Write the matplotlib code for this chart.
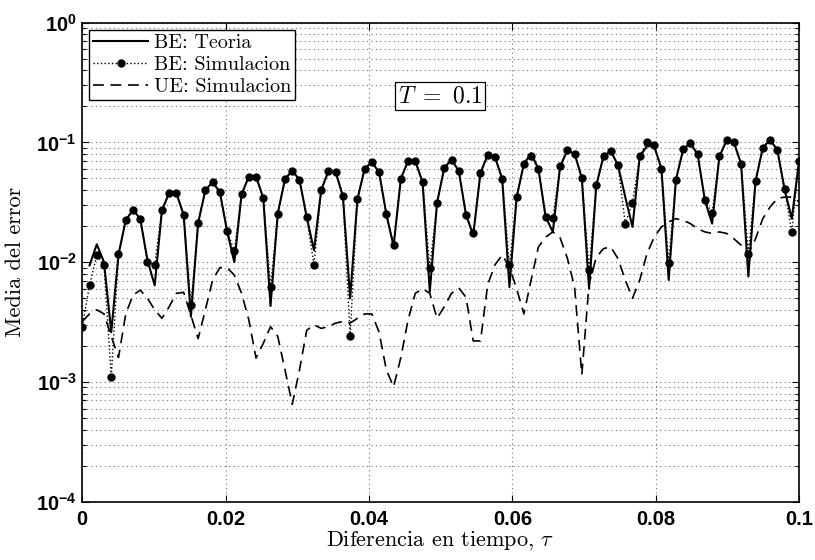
"""
Error medio vs diferencia en tiempo (escala log), estilo MATLAB.
"""

import numpy as np
import matplotlib
matplotlib.use("Agg")
import matplotlib.pyplot as plt
from matplotlib.ticker import LogLocator, NullLocator, FixedLocator, FixedFormatter

plt.rcParams["mathtext.fontset"] = "cm"

# ── data ──
tau = np.linspace(0, 0.1, 100)

be_sim = [
    2.9e-3, 6.4e-3, 1.15e-2, 9.4e-3, 1.1e-3, 1.16e-2, 2.24e-2, 2.73e-2, 2.31e-2, 1.0e-2,
    9.5e-3, 2.71e-2, 3.79e-2, 3.76e-2, 2.49e-2, 4.4e-3, 2.13e-2, 4.0e-2, 4.67e-2, 3.85e-2,
    1.82e-2, 1.24e-2, 3.69e-2, 5.18e-2, 5.18e-2, 3.44e-2, 6.2e-3, 2.55e-2, 4.95e-2, 5.8e-2,
    4.89e-2, 2.37e-2, 9.5e-3, 4.0e-2, 5.77e-2, 5.66e-2, 3.55e-2, 2.42e-3, 3.35e-2, 6.03e-2,
    6.86e-2, 5.62e-2, 2.51e-2, 1.40e-2, 4.98e-2, 6.99e-2, 6.99e-2, 4.67e-2, 8.97e-3, 3.12e-2,
    6.15e-2, 7.17e-2, 5.8e-2, 2.49e-2, 1.77e-2, 5.58e-2, 7.84e-2, 7.55e-2, 4.98e-2, 9.5e-3,
    3.5e-2, 6.64e-2, 7.64e-2, 6.03e-2, 2.39e-2, 2.34e-2, 6.3e-2, 8.58e-2, 8.05e-2, 5.05e-2,
    8.58e-3, 4.39e-2, 7.69e-2, 8.47e-2, 6.45e-2, 2.1e-2, 3.14e-2, 7.64e-2, 1.01e-1, 9.44e-2,
    6.03e-2, 9.9e-3, 4.89e-2, 8.75e-2, 9.87e-2, 7.94e-2, 3.29e-2, 2.58e-2, 7.64e-2, 1.04e-1,
    1.007e-1, 6.64e-2, 1.18e-2, 4.77e-2, 9.03e-2, 1.05e-1, 8.69e-2, 4.08e-2, 1.79e-2, 6.95e-2,
]

# theory curve starts at the second sample
be_teo = [
    9.4e-3, 1.41e-2, 1.0e-2, 2.6e-3, 1.16e-2, 2.24e-2, 2.73e-2, 2.31e-2, 1.04e-2,
    6.4e-3, 2.71e-2, 3.79e-2, 3.76e-2, 2.49e-2, 3.5e-3, 2.13e-2, 4.0e-2, 4.67e-2, 3.85e-2,
    1.82e-2, 1.0e-2, 3.69e-2, 5.18e-2, 5.18e-2, 3.44e-2, 4.3e-3, 2.55e-2, 4.95e-2, 5.8e-2,
    4.89e-2, 2.37e-2, 1.26e-2, 4.0e-2, 5.77e-2, 5.66e-2, 3.55e-2, 5.0e-3, 3.35e-2, 6.03e-2,
    6.86e-2, 5.62e-2, 2.51e-2, 1.36e-2, 4.98e-2, 6.99e-2, 6.99e-2, 4.67e-2, 5.67e-3, 3.12e-2,
    6.15e-2, 7.17e-2, 5.8e-2, 2.49e-2, 1.68e-2, 5.58e-2, 7.84e-2, 7.55e-2, 4.98e-2, 6.2e-3,
    3.5e-2, 6.64e-2, 8.1e-2, 6.03e-2, 2.39e-2, 1.79e-2, 6.3e-2, 8.58e-2, 8.05e-2, 5.05e-2,
    6.0e-3, 4.39e-2, 7.69e-2, 8.47e-2, 6.45e-2, 3.5e-2, 1.97e-2, 7.64e-2, 9.3e-2, 9.3e-2,
    6.03e-2, 7.1e-3, 4.89e-2, 8.75e-2, 9.87e-2, 7.94e-2, 3.29e-2, 2.1e-2, 7.64e-2, 1.04e-1,
    1.007e-1, 6.64e-2, 7.6e-3, 4.77e-2, 9.03e-2, 1.05e-1, 8.69e-2, 4.08e-2, 2.31e-2, 6.95e-2,
]

ue_sim = [
    3.2e-3, 3.7e-3, 4.0e-3, 3.7e-3, 2.4e-3, 1.6e-3, 3.7e-3, 5.3e-3, 5.85e-3, 5.0e-3,
    4.0e-3, 3.4e-3, 4.25e-3, 5.5e-3, 5.6e-3, 3.6e-3, 2.3e-3, 4.0e-3, 7.1e-3, 9.0e-3,
    9.0e-3, 7.8e-3, 5.5e-3, 3.3e-3, 1.58e-3, 2.1e-3, 2.9e-3, 2.4e-3, 1.26e-3, 6.5e-4,
    1.26e-3, 2.7e-3, 3.0e-3, 2.8e-3, 2.9e-3, 3.1e-3, 3.2e-3, 3.1e-3, 3.4e-3, 3.7e-3,
    3.7e-3, 2.6e-3, 1.26e-3, 9.1e-4, 1.6e-3, 3.3e-3, 5.5e-3, 6.0e-3, 5.5e-3, 3.4e-3,
    4.25e-3, 5.5e-3, 6.1e-3, 5.1e-3, 2.2e-3, 2.2e-3, 6.5e-3, 9.5e-3, 1.15e-2, 9.1e-3,
    6.0e-3, 3.7e-3, 7.1e-3, 1.34e-2, 1.62e-2, 1.79e-2, 1.6e-2, 1.08e-2, 6.2e-3, 1.15e-3,
    6.6e-3, 1.1e-2, 1.3e-2, 1.34e-2, 1.07e-2, 7.1e-3, 5.0e-3, 7.1e-3, 1.18e-2, 1.62e-2,
    1.97e-2, 2.17e-2, 2.31e-2, 2.24e-2, 2.1e-2, 1.9e-2, 1.79e-2, 1.74e-2, 1.79e-2, 1.74e-2,
    1.57e-2, 1.39e-2, 1.18e-2, 1.57e-2, 2.31e-2, 2.89e-2, 3.4e-2, 3.5e-2, 3.5e-2, 3.2e-2,
]

xticks = [0, 0.02, 0.04, 0.06, 0.08, 0.1]
xtick_labels = ["0", "0.02", "0.04", "0.06", "0.08", "0.1"]
yticks = [1e-4, 1e-3, 1e-2, 1e-1, 1e0]
ytick_labels = [r"$\mathdefault{10^{-4}}$", r"$\mathdefault{10^{-3}}$",
                r"$\mathdefault{10^{-2}}$", r"$\mathdefault{10^{-1}}$",
                r"$\mathdefault{10^{0}}$"]

# ── figure ──
W, H = 815, 560
fig = plt.figure(figsize=(W / 100, H / 100), dpi=100)
ax = fig.add_axes([82.3 / W, 1 - 501.7 / H, (799 - 82.3) / W, (501.7 - 22.7) / H])

ax.plot(tau[1:], be_teo, color="black", linewidth=1.5, label="BE: Teoria")
ax.plot(tau, be_sim, color="black", linestyle=":", linewidth=1.0, marker="o",
        markersize=5, label="BE: Simulacion")
ax.plot(tau, ue_sim, color="black", linestyle=(0, (6.5, 4)), linewidth=1.2,
        label="UE: Simulacion")

ax.set_yscale("log")
ax.set_xlim(0, 0.1)
ax.set_ylim(1e-4, 1e0)

ax.xaxis.set_major_locator(FixedLocator(xticks))
ax.xaxis.set_major_formatter(FixedFormatter(xtick_labels))
ax.xaxis.set_minor_locator(NullLocator())
ax.yaxis.set_major_locator(FixedLocator(yticks))
ax.yaxis.set_major_formatter(FixedFormatter(ytick_labels))
ax.yaxis.set_minor_locator(LogLocator(base=10, subs=np.arange(2, 10)))

tick_font = dict(family="Liberation Sans", weight="bold", size=14.5)
for lab in ax.get_xticklabels() + ax.get_yticklabels():
    lab.set_fontproperties(tick_font)

ax.tick_params(which="both", direction="in", top=True, right=True, width=0.8)
ax.tick_params(which="major", length=5)
ax.tick_params(which="minor", length=3)
ax.tick_params(axis="x", pad=6)
ax.tick_params(axis="y", pad=4)

grid_kw = dict(color="0.45", linestyle=(0, (1, 3)), linewidth=0.8)
ax.xaxis.grid(True, which="major", **grid_kw)
ax.yaxis.grid(True, which="both", **grid_kw)

for s in ax.spines.values():
    s.set_linewidth(1.2)

label_font = dict(family="cmr10", size=16)
ax.set_xlabel(r"Diferencia en tiempo, $\tau$", fontdict=label_font, labelpad=0)
ax.set_ylabel("Media del error", fontdict=label_font, labelpad=8)

leg = ax.legend(loc="upper left", prop=dict(family="cmr10", size=14.5), numpoints=1,
                handlelength=2.7, handletextpad=0.3, borderpad=0.2, labelspacing=0.2,
                borderaxespad=0.35, fancybox=False, framealpha=1, edgecolor="black")
leg.get_frame().set_linewidth(1.0)

ax.text(0.499, 0.847, r"$T\ =\ 0.1$", transform=ax.transAxes, fontsize=17,
        ha="center", va="center",
        bbox=dict(boxstyle="square,pad=0.1", facecolor="white", edgecolor="black",
                  linewidth=0.9))

fig.savefig("out.png", dpi=100)
plt.close(fig)
